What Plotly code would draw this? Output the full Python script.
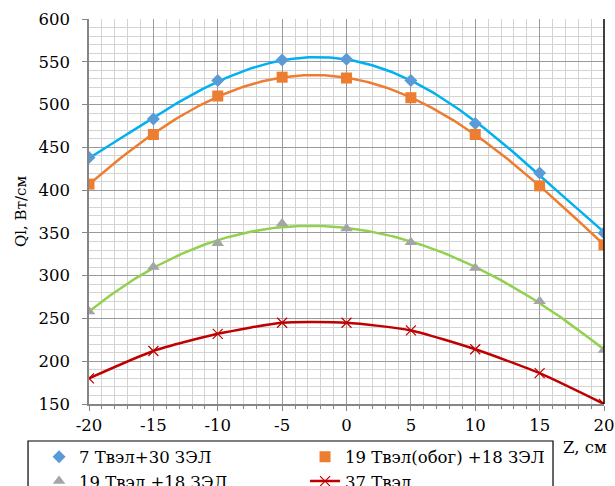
import numpy as np
import plotly.graph_objects as go

z = [-20, -15, -10, -5, 0, 5, 10, 15, 20]
s1_name = "7 Твэл+30 ЗЭЛ"
s1 = [438, 483, 528, 552, 553, 528, 478, 420, 350]
s2_name = "19 Твэл(обог) +18 ЗЭЛ"
s2 = [407, 465, 510, 532, 531, 508, 465, 405, 336]
s3_name = "19 Твэл +18 ЗЭЛ"
s3 = [258, 310, 338, 361, 355, 339, 309, 270, 213]
s4_name = "37 Твэл"
s4 = [180, 212, 232, 245, 245, 236, 214, 186, 150]

x_ticks = [-20, -15, -10, -5, 0, 5, 10, 15, 20]
x_ticklabels = ["-20", "-15", "-10", "-5", "0", "5", "10", "15", "20"]

x_title = "Z, см"
y_title = "Ql, Вт/см"

FONT = "DejaVu Serif"
FS = 16.5

fig = go.Figure()

# polynomial trendlines (not in legend)
zz = np.linspace(min(z), max(z), 200)
for vals, col, deg in [(s1, "#00B0F0", 4), (s2, "#ED7D31", 4), (s3, "#92D050", 3)]:
    c = np.polyfit(z, vals, deg)
    fig.add_trace(go.Scatter(x=zz, y=np.polyval(c, zz), mode="lines",
                             line=dict(color=col, width=2.5),
                             showlegend=False, hoverinfo="skip"))

fig.add_trace(go.Scatter(x=z, y=s1, mode="markers", name=s1_name,
                         marker=dict(symbol="diamond", size=10, color="#5B9BD5")))
fig.add_trace(go.Scatter(x=z, y=s2, mode="markers", name=s2_name,
                         marker=dict(symbol="square", size=11, color="#ED7D31")))
fig.add_trace(go.Scatter(x=z, y=s3, mode="markers", name=s3_name,
                         marker=dict(symbol="triangle-up", size=11, color="#A5A5A5")))
fig.add_trace(go.Scatter(x=z, y=s4, mode="lines+markers", name=s4_name,
                         line=dict(color="#C00000", width=2.5, shape="spline", smoothing=0.6),
                         marker=dict(symbol="x-thin", size=10,
                                     line=dict(color="#C00000", width=1.2))))

fig.update_layout(
    width=615, height=486,
    margin=dict(l=89, r=11, t=19, b=82, autoexpand=False),
    paper_bgcolor="white", plot_bgcolor="white",
    font=dict(family=FONT, size=FS, color="black"),
    showlegend=True,
    legend=dict(orientation="h", x=-0.097, y=-0.092, xanchor="left", yanchor="top",
                borderwidth=0, bgcolor="rgba(0,0,0,0)",
                entrywidth=221, entrywidthmode="pixels",
                font=dict(family=FONT, size=FS, color="black"),
                tracegroupgap=0),
    annotations=[dict(text=x_title, xref="paper", yref="paper", x=0.963, y=-0.112,
                      xanchor="center", yanchor="middle", showarrow=False,
                      font=dict(family=FONT, size=FS, color="black"))],
    shapes=[
        dict(type="line", xref="paper", yref="paper", x0=1, x1=1, y0=0, y1=1,
             line=dict(color="black", width=1.5)),
        dict(type="rect", xref="paper", yref="paper", x0=-0.1184, x1=0.901,
             y0=-0.3, y1=-0.0961, line=dict(color="black", width=1.2),
             fillcolor="rgba(0,0,0,0)", layer="below"),
    ],
)

fig.update_xaxes(range=[-20, 20], tickvals=x_ticks, ticktext=x_ticklabels, showgrid=True,
                 gridcolor="#9a9a9a", gridwidth=1,
                 showline=True, linecolor="#868686", linewidth=1.5,
                 ticks="outside", ticklen=5, tickcolor="#868686",
                 zeroline=False,
                 minor=dict(dtick=1, showgrid=True, gridcolor="#d3d3d3", gridwidth=1,
                            ticks="outside", ticklen=3, tickcolor="#868686"),
                 tickfont=dict(family=FONT, size=FS, color="black"))
fig.update_yaxes(range=[150, 600], dtick=50, tick0=0, showgrid=True,
                 gridcolor="#9a9a9a", gridwidth=1,
                 showline=True, linecolor="#868686", linewidth=1.5,
                 ticks="outside", ticklen=5, tickcolor="#868686",
                 zeroline=False, ticklabelstandoff=9,
                 minor=dict(dtick=10, showgrid=True, gridcolor="#d3d3d3", gridwidth=1),
                 title=dict(text=y_title, font=dict(family=FONT, size=15, color="black"),
                            standoff=8),
                 tickfont=dict(family=FONT, size=FS, color="black"))

fig.write_html("out.html")
